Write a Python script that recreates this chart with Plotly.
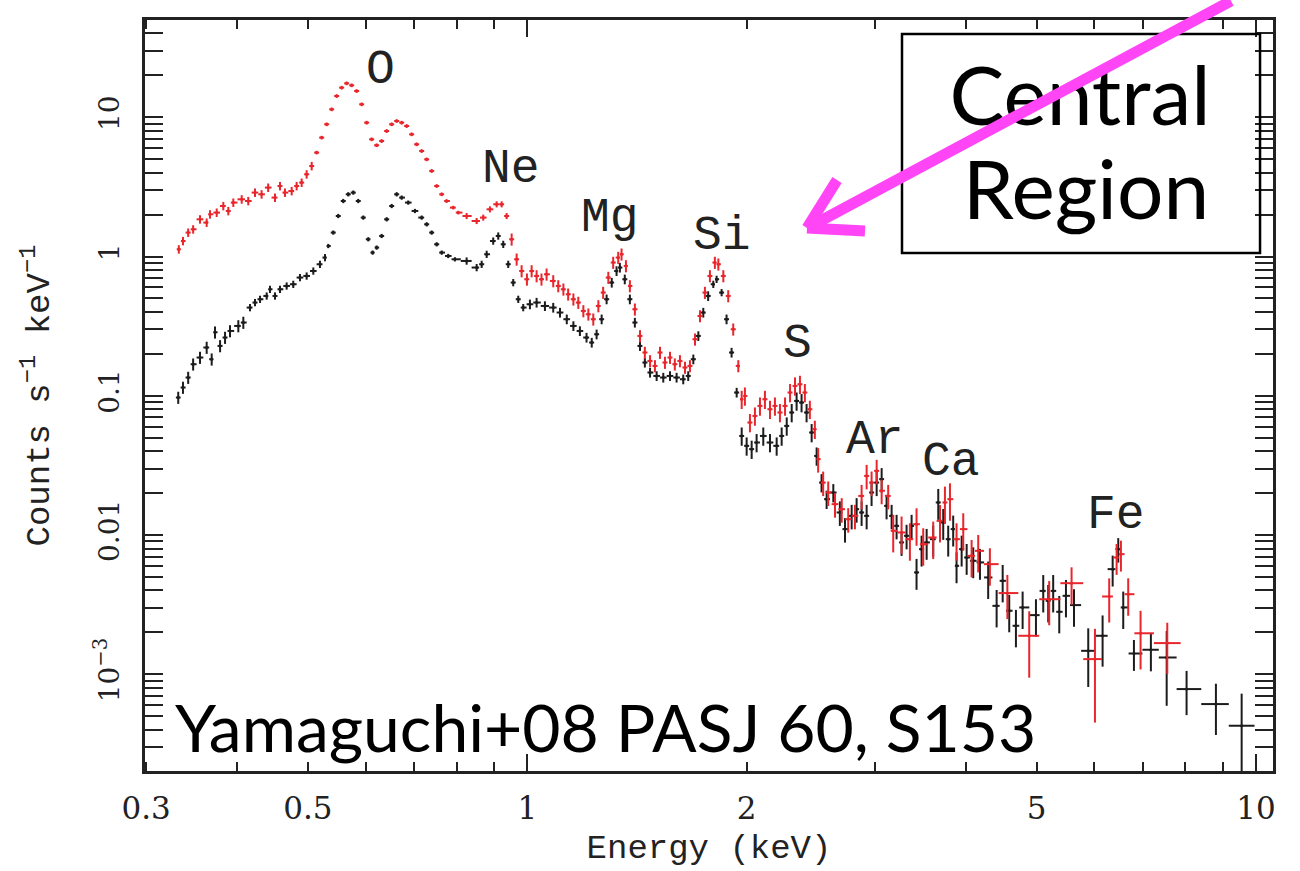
import numpy as np
import plotly.graph_objects as go

# ---------------- data ----------------
bk_E = [0.332, 0.337, 0.3426, 0.348, 0.3556, 0.3632, 0.369, 0.3729, 0.3789, 0.3849,
        0.391, 0.4014, 0.4078, 0.4165, 0.4231, 0.4299, 0.439, 0.4436, 0.4507, 0.4579,
        0.4676, 0.4775, 0.4877, 0.4981, 0.5087, 0.5195, 0.5278, 0.5333, 0.5418, 0.5504,
        0.5592, 0.5681, 0.5772, 0.5863, 0.5957, 0.6052, 0.6136, 0.6214, 0.6313, 0.6414,
        0.6516, 0.662, 0.6725, 0.6866, 0.7013, 0.7164, 0.7278, 0.7394, 0.7512, 0.7632,
        0.7791, 0.7957, 0.8257, 0.8523, 0.8659, 0.8797, 0.8981, 0.9125, 0.927, 0.9417,
        0.9567, 0.972, 0.9874, 1.0085, 1.030, 1.0575, 1.0856, 1.109, 1.133, 1.157,
        1.181, 1.206, 1.226, 1.245, 1.265, 1.285, 1.306, 1.326, 1.340, 1.361,
        1.383, 1.405, 1.428, 1.450, 1.474, 1.505, 1.537, 1.570, 1.603, 1.637,
        1.663, 1.690, 1.717, 1.744, 1.771, 1.800, 1.819, 1.848, 1.877, 1.907,
        1.938, 1.969, 2.000, 2.032, 2.064, 2.108, 2.153, 2.199, 2.234, 2.270,
        2.306, 2.342, 2.379, 2.417, 2.456, 2.495, 2.534, 2.575, 2.630, 2.685,
        2.729, 2.787, 2.831, 2.876, 2.922, 2.968, 3.016, 3.064, 3.112, 3.162,
        3.212, 3.263, 3.315, 3.368, 3.421, 3.476, 3.532, 3.606, 3.664, 3.722,
        3.781, 3.841, 3.882, 3.945, 4.008, 4.092, 4.180, 4.290, 4.406, 4.491,
        4.585, 4.683, 4.783, 4.989, 5.105, 5.186, 5.268, 5.370, 5.485, 5.626,
        5.885, 6.158, 6.357, 6.470, 6.573, 6.799, 7.173, 7.540, 8.029, 8.809,
        9.555]
bk_C = [0.0972, 0.1147, 0.1353, 0.1686, 0.1883, 0.2222, 0.1831, 0.2861, 0.2282, 0.2621,
        0.2922, 0.3175, 0.336, 0.4303, 0.4675, 0.4938, 0.5214, 0.5823, 0.5214, 0.5823,
        0.6152, 0.6327, 0.7068, 0.7257, 0.788, 0.8806, 0.9836, 1.191, 1.487, 1.956,
        2.507, 2.801, 2.881, 2.507, 1.905, 1.331, 1.068, 1.16, 1.406, 1.852,
        2.308, 2.801, 2.652, 2.442, 2.126, 1.905, 1.705, 1.487, 1.225, 1.068,
        1.01, 0.956, 0.930, 0.834, 0.881, 1.039, 1.294, 1.406, 1.225, 0.881,
        0.6507, 0.4938, 0.4303, 0.4545, 0.4675, 0.4418, 0.4303, 0.3963, 0.3548, 0.3175,
        0.2922, 0.2621, 0.2413, 0.2767, 0.3548, 0.4938, 0.6507, 0.788, 0.834, 0.687,
        0.4938, 0.336, 0.2282, 0.1734, 0.147, 0.1389, 0.1353, 0.1389, 0.1353, 0.1315,
        0.1389, 0.1831, 0.2692, 0.3963, 0.5214, 0.6327, 0.687, 0.5514, 0.3548, 0.2046,
        0.1056, 0.0515, 0.0437, 0.0414, 0.0462, 0.0515, 0.0462, 0.0437, 0.0515, 0.0608,
        0.0759, 0.0919, 0.0895, 0.0759, 0.0545, 0.037, 0.0238, 0.0181, 0.0202, 0.01453,
        0.01103, 0.01373, 0.01534, 0.01453, 0.01373, 0.0202, 0.0238, 0.0252, 0.0162, 0.01373,
        0.01164, 0.00885, 0.00987, 0.01164, 0.00539, 0.00792, 0.00885, 0.00934, 0.01714, 0.01231,
        0.00934, 0.01103, 0.00601, 0.00792, 0.0069, 0.00653, 0.00636, 0.00496, 0.0031, 0.00469,
        0.00286, 0.00223, 0.00302, 0.00266, 0.00397, 0.00337, 0.00397, 0.00281, 0.00366, 0.00314,
        0.001474, 0.00189, 0.00569, 0.00792, 0.00302, 0.00141, 0.0015, 0.00132, 0.000783, 0.000611,
        0.000427]
bk_err = [0.10, 0.10, 0.10, 0.10, 0.10, 0.10, 0.10, 0.10, 0.10, 0.10,
          0.10, 0.10, 0.10, 0.06, 0.06, 0.06, 0.06, 0.06, 0.06, 0.06,
          0.06, 0.06, 0.06, 0.06, 0.06, 0.06, 0.06, 0.035, 0.035, 0.035,
          0.035, 0.035, 0.035, 0.035, 0.035, 0.035, 0.035, 0.035, 0.035, 0.035,
          0.035, 0.035, 0.035, 0.035, 0.035, 0.035, 0.035, 0.035, 0.035, 0.035,
          0.035, 0.035, 0.06, 0.06, 0.06, 0.06, 0.06, 0.06, 0.06, 0.06,
          0.06, 0.06, 0.06, 0.08, 0.08, 0.08, 0.08, 0.08, 0.08, 0.08,
          0.08, 0.08, 0.08, 0.08, 0.08, 0.08, 0.08, 0.08, 0.08, 0.08,
          0.08, 0.08, 0.08, 0.08, 0.08, 0.08, 0.08, 0.08, 0.08, 0.08,
          0.08, 0.08, 0.08, 0.08, 0.08, 0.06, 0.06, 0.06, 0.08, 0.08,
          0.08, 0.15, 0.15, 0.15, 0.15, 0.15, 0.15, 0.15, 0.15, 0.15,
          0.15, 0.15, 0.15, 0.15, 0.15, 0.15, 0.15, 0.15, 0.15, 0.2,
          0.2, 0.2, 0.2, 0.2, 0.2, 0.2, 0.2, 0.2, 0.2, 0.2,
          0.2, 0.2, 0.2, 0.2, 0.25, 0.25, 0.25, 0.25, 0.25, 0.25,
          0.25, 0.25, 0.25, 0.25, 0.25, 0.25, 0.25, 0.3, 0.3, 0.3,
          0.3, 0.3, 0.3, 0.3, 0.3, 0.3, 0.3, 0.3, 0.3, 0.3,
          0.45, 0.4, 0.25, 0.2, 0.3, 0.25, 0.3, 0.55, 0.35, 0.4,
          0.7]

rd_E = [0.3326, 0.337, 0.3426, 0.348, 0.3556, 0.3632, 0.367, 0.3749, 0.3828, 0.3889,
        0.3951, 0.4057, 0.4142, 0.4231, 0.432, 0.4411, 0.4507, 0.4579, 0.4651, 0.4751,
        0.4826, 0.4903, 0.4981, 0.5061, 0.5141, 0.5223, 0.5307, 0.5391, 0.5477, 0.5564,
        0.5652, 0.5742, 0.5833, 0.5927, 0.6021, 0.6117, 0.6214, 0.6313, 0.6414, 0.6516,
        0.662, 0.6725, 0.6832, 0.6941, 0.7051, 0.7164, 0.7278, 0.7394, 0.7512, 0.7632,
        0.775, 0.7915, 0.8043, 0.8257, 0.8523, 0.8702, 0.8888, 0.9078, 0.9223, 0.9369,
        0.9519, 0.9671, 0.9824, 0.999, 1.014, 1.030, 1.046, 1.063, 1.0856, 1.103,
        1.121, 1.138, 1.157, 1.175, 1.194, 1.213, 1.232, 1.252, 1.271, 1.292,
        1.312, 1.333, 1.347, 1.366, 1.383, 1.405, 1.428, 1.450, 1.474, 1.497,
        1.521, 1.545, 1.570, 1.594, 1.620, 1.646, 1.672, 1.699, 1.726, 1.753,
        1.781, 1.809, 1.829, 1.858, 1.887, 1.917, 1.948, 1.969, 1.989, 2.021,
        2.053, 2.086, 2.119, 2.153, 2.187, 2.222, 2.258, 2.294, 2.330, 2.367,
        2.404, 2.442, 2.481, 2.507, 2.547, 2.588, 2.644, 2.701, 2.757, 2.816,
        2.876, 2.922, 2.968, 3.016, 3.064, 3.128, 3.178, 3.263, 3.350, 3.421,
        3.494, 3.606, 3.684, 3.742, 3.802, 3.882, 3.965, 4.071, 4.157, 4.313,
        4.558, 4.884, 5.202, 5.583, 6.011, 6.288, 6.437, 6.525, 6.677, 6.943,
        7.554]
rd_C = [1.128, 1.294, 1.487, 1.570, 1.852, 1.754, 2.012, 2.069, 2.308, 2.126,
        2.442, 2.578, 2.507, 2.881, 2.801, 3.129, 2.652, 3.212, 2.881, 2.957,
        3.212, 3.399, 3.898, 4.471, 5.58, 7.15, 8.91, 11.41, 14.22, 16.34,
        17.54, 16.97, 15.45, 12.40, 9.16, 6.95, 6.30, 6.76, 7.97, 8.91,
        9.41, 9.16, 8.66, 7.55, 6.40, 5.73, 4.99, 4.12, 3.212, 2.801,
        2.507, 2.247, 2.069, 1.956, 1.801, 1.905, 2.185, 2.374, 2.374, 1.956,
        1.331, 0.956, 0.788, 0.687, 0.788, 0.7257, 0.687, 0.746, 0.668, 0.6152,
        0.5823, 0.5363, 0.4938, 0.4675, 0.4069, 0.3852, 0.3548, 0.4418, 0.5514, 0.7068,
        0.906, 0.9836, 1.039, 0.856, 0.6152, 0.4184, 0.2692, 0.2046, 0.178, 0.1639,
        0.2046, 0.1734, 0.1883, 0.1686, 0.178, 0.1597, 0.1639, 0.2548, 0.3747, 0.5514,
        0.7257, 0.906, 0.881, 0.7257, 0.5214, 0.3006, 0.1639, 0.0945, 0.0998, 0.0643,
        0.0717, 0.0846, 0.0945, 0.0801, 0.0846, 0.0759, 0.0846, 0.1056, 0.1178, 0.1211,
        0.1056, 0.0801, 0.0576, 0.0351, 0.0238, 0.0202, 0.01667, 0.01534, 0.013, 0.01373,
        0.0191, 0.0266, 0.0238, 0.0289, 0.0208, 0.0191, 0.01072, 0.01044, 0.00934, 0.01197,
        0.0086, 0.0096, 0.01264, 0.01714, 0.0181, 0.00934, 0.01103, 0.00709, 0.0077, 0.00618,
        0.00383, 0.00189, 0.00346, 0.00451, 0.001285, 0.00362, 0.0069, 0.00729, 0.00376, 0.00197,
        0.001675]
rd_err = [0.07, 0.07, 0.07, 0.07, 0.07, 0.07, 0.07, 0.07, 0.07, 0.07,
          0.07, 0.07, 0.07, 0.07, 0.07, 0.07, 0.07, 0.07, 0.07, 0.07,
          0.07, 0.07, 0.07, 0.07, 0.03, 0.03, 0.03, 0.03, 0.03, 0.03,
          0.03, 0.03, 0.03, 0.03, 0.03, 0.03, 0.03, 0.03, 0.03, 0.03,
          0.03, 0.03, 0.03, 0.03, 0.03, 0.03, 0.03, 0.03, 0.03, 0.03,
          0.03, 0.03, 0.03, 0.05, 0.05, 0.05, 0.05, 0.05, 0.05, 0.05,
          0.10, 0.10, 0.10, 0.10, 0.10, 0.10, 0.10, 0.10, 0.10, 0.10,
          0.10, 0.10, 0.10, 0.10, 0.10, 0.10, 0.10, 0.10, 0.10, 0.10,
          0.10, 0.10, 0.10, 0.10, 0.10, 0.10, 0.10, 0.10, 0.10, 0.10,
          0.10, 0.10, 0.10, 0.10, 0.10, 0.10, 0.10, 0.10, 0.10, 0.10,
          0.10, 0.10, 0.10, 0.10, 0.10, 0.10, 0.10, 0.15, 0.15, 0.15,
          0.15, 0.15, 0.15, 0.15, 0.15, 0.15, 0.15, 0.15, 0.15, 0.15,
          0.15, 0.15, 0.15, 0.2, 0.2, 0.2, 0.2, 0.2, 0.2, 0.2,
          0.2, 0.2, 0.2, 0.2, 0.2, 0.2, 0.3, 0.3, 0.3, 0.3,
          0.3, 0.3, 0.3, 0.3, 0.3, 0.3, 0.3, 0.3, 0.3, 0.3,
          0.35, 0.5, 0.35, 0.3, 0.65, 0.35, 0.25, 0.25, 0.3, 0.45,
          0.4]

assert len(bk_E) == len(bk_C) == len(bk_err), (len(bk_E), len(bk_C), len(bk_err))
assert len(rd_E) == len(rd_C) == len(rd_err), (len(rd_E), len(rd_C), len(rd_err))

x_major = [0.3, 0.5, 1, 2, 5, 10]
x_major_text = ['0.3', '0.5', '1', '2', '5', '10']
x_minor = [0.4, 0.6, 0.7, 0.8, 0.9, 3, 4, 6, 7, 8, 9]
x_long = [1, 10]
y_major = [1e-3, 1e-2, 1e-1, 1, 10]
y_major_text = ['10<sup>\u22123</sup>', '0.01', '0.1', '1', '10']
y_minor = [m * 10.0 ** k for k in range(-4, 2) for m in range(2, 10)
           if 2e-4 <= m * 10.0 ** k <= 45]

elements = ['O', 'Ne', 'Mg', 'Si', 'S', 'Ar', 'Ca', 'Fe']
elem_x = [0.2092, 0.3245, 0.4122, 0.5115, 0.5789, 0.6472, 0.7145, 0.8608]
elem_y = [0.9368, 0.8056, 0.7409, 0.7164, 0.5726, 0.4441, 0.4154, 0.3449]

box_lines = ['Central', 'Region']

X_RANGE = [np.log10(0.2989), np.log10(10.55)]
Y_RANGE = [np.log10(2.02e-4), np.log10(50)]

BLACK = '#1c1c1c'
RED = '#e8262c'
AX = '#222222'
MAGENTA = '#ff45f6'


def bin_halfwidths(E):
    E = np.asarray(E, dtype=float)
    mid = np.sqrt(E[:-1] * E[1:])
    lo = np.concatenate([[E[0] ** 2 / mid[0]], mid])
    hi = np.concatenate([mid, [E[-1] ** 2 / mid[-1]]])
    return E - lo, hi - E


def spectrum_trace(E, C, err, color, name):
    minus, plus = bin_halfwidths(E)
    C = np.asarray(C)
    dy = C * np.asarray(err)
    return go.Scatter(
        x=E, y=C, mode='markers', name=name, showlegend=False,
        marker=dict(color=color, size=3, line=dict(width=0)),
        error_x=dict(type='data', symmetric=False, array=plus, arrayminus=minus,
                     color=color, thickness=2, width=0),
        error_y=dict(type='data', array=dy, color=color, thickness=2, width=0),
    )


def paper_to_data(xp, yp):
    """position helper for text placed in data space (log axes)."""
    lx = X_RANGE[0] + xp * (X_RANGE[1] - X_RANGE[0])
    ly = Y_RANGE[0] + yp * (Y_RANGE[1] - Y_RANGE[0])
    return 10 ** lx, 10 ** ly


fig = go.Figure()
fig.add_trace(spectrum_trace(bk_E, bk_C, bk_err, BLACK, 'black'))
fig.add_trace(spectrum_trace(rd_E, rd_C, rd_err, RED, 'red'))
# empty helper trace so the overlaying axis (long decade ticks) is drawn
fig.add_trace(go.Scatter(x=[None], y=[None], xaxis='x2', yaxis='y',
                         showlegend=False, hoverinfo='skip'))

mono = 'Liberation Mono, Courier New, monospace'
serif = 'DejaVu Serif, serif'
sans = 'Lato, Gill Sans, Open Sans, sans-serif'

# "Central / Region" label as a text trace so the magenta arrow (shape) lies over it
bx, by = zip(*[paper_to_data(0.8289, 0.8872), paper_to_data(0.8342, 0.7625)])
fig.add_trace(go.Scatter(x=list(bx), y=list(by), mode='text', text=box_lines,
                         textposition='middle center', showlegend=False,
                         hoverinfo='skip', cliponaxis=False,
                         textfont=dict(family=sans, size=82, color='black')))

fig.update_layout(
    width=1300, height=871,
    margin=dict(l=145, r=27, t=20, b=100),
    paper_bgcolor='white', plot_bgcolor='white',
    showlegend=False,
    xaxis=dict(
        type='log', range=X_RANGE, showgrid=False, zeroline=False,
        showline=True, linecolor=AX, linewidth=2.5, mirror='allticks',
        ticks='inside', ticklen=9, tickwidth=2, tickcolor=AX,
        tickmode='array', tickvals=x_major, ticktext=x_major_text,
        tickfont=dict(family=serif, size=31, color=AX),
        ticklabelstandoff=8,
        minor=dict(tickmode='array', tickvals=x_minor, ticks='inside',
                   ticklen=9, tickwidth=2, tickcolor=AX, showgrid=False),
        title=dict(text='Energy (keV)', font=dict(family=mono, size=34, color=AX),
                   standoff=10),
    ),
    xaxis2=dict(
        type='log', range=X_RANGE, overlaying='x', anchor='y', side='bottom',
        showgrid=False, zeroline=False, showline=False, mirror='allticks',
        ticks='inside', ticklen=17, tickwidth=2, tickcolor=AX,
        tickmode='array', tickvals=x_long, showticklabels=False,
    ),
    yaxis=dict(
        type='log', range=Y_RANGE, showgrid=False, zeroline=False,
        showline=True, linecolor=AX, linewidth=2.5, mirror='allticks',
        ticks='inside', ticklen=18, tickwidth=2, tickcolor=AX,
        tickmode='array', tickvals=y_major, ticktext=y_major_text,
        tickangle=-90,
        tickfont=dict(family=serif, size=28, color=AX),
        ticklabelstandoff=12,
        minor=dict(tickmode='array', tickvals=y_minor, ticks='inside',
                   ticklen=10, tickwidth=2, tickcolor=AX, showgrid=False),
        title=dict(text='Counts s<sup>\u22121</sup> keV<sup>\u22121</sup>',
                   font=dict(family=mono, size=34, color=AX), standoff=30),
    ),
)

annotations = []
for lab, ex, ey in zip(elements, elem_x, elem_y):
    annotations.append(dict(text=lab, x=ex, y=ey, xref='paper', yref='paper',
                            xanchor='center', yanchor='middle', yshift=-3,
                            showarrow=False,
                            font=dict(family=mono, size=48, color=AX)))

annotations.append(dict(text='Yamaguchi+08 PASJ 60, S153', x=0.0248, y=0.0586,
                        xref='paper', yref='paper', xanchor='left', yanchor='middle',
                        showarrow=False, font=dict(family=sans, size=66, color='black')))
fig.update_layout(annotations=annotations)

fig.add_shape(type='rect', xref='paper', yref='paper',
              x0=0.6711, x1=0.9885, y0=0.6897, y1=0.9814,
              line=dict(color='black', width=2.5), fillcolor='rgba(0,0,0,0)',
              layer='above')

# magenta arrow: shaft plus two head strokes (paper coordinates)
tip = (0.5869, 0.7230)
arrow_ends = [(0.9628, 1.0253), (0.6135, 0.7869), (0.6383, 0.7190)]
for ex, ey in arrow_ends:
    fig.add_shape(type='line', xref='paper', yref='paper',
                  x0=tip[0], y0=tip[1], x1=ex, y1=ey,
                  line=dict(color=MAGENTA, width=11), layer='above')

fig.write_html('out.html')
